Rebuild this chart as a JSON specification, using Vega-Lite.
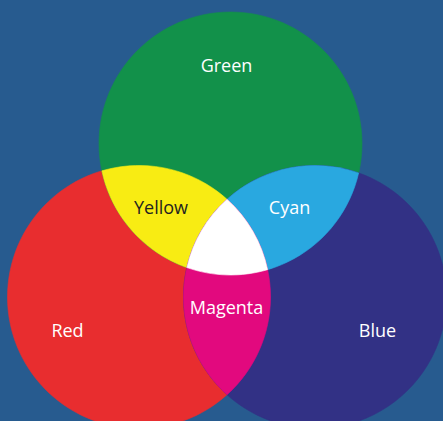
{
  "$schema": "https://vega.github.io/schema/vega-lite/v6.json",
  "width": 443,
  "height": 421,
  "padding": 0,
  "autosize": {"type": "none"},
  "background": "#275b8f",
  "config": {"view": {"stroke": null}},
  "datasets": {
    "regions": [
      {"region": "Red", "x": 139, "y": 297},
      {"region": "Green", "x": 230.5, "y": 143.5},
      {"region": "Blue", "x": 315, "y": 297},
      {"region": "Yellow", "x": 184.75, "y": 220.25},
      {"region": "Cyan", "x": 272.75, "y": 220.25},
      {"region": "Magenta", "x": 227, "y": 297},
      {"region": "White", "x": 227, "y": 245}
    ],
    "labels": [
      {"label": "Green", "x": 226.5, "y": 72},
      {"label": "Yellow", "x": 161, "y": 214},
      {"label": "Cyan", "x": 289.5, "y": 214},
      {"label": "Magenta", "x": 226.5, "y": 314},
      {"label": "Red", "x": 67.5, "y": 337},
      {"label": "Blue", "x": 377.5, "y": 337}
    ]
  },
  "layer": [
    {
      "data": {"name": "regions"},
      "mark": {"type": "point", "filled": true, "opacity": 1, "size": 69169, "strokeWidth": 0.6, "strokeOpacity": 1},
      "encoding": {
        "x": {"field": "x", "type": "quantitative", "scale": {"domain": [0, 443], "nice": false, "zero": false}, "axis": null},
        "y": {"field": "y", "type": "quantitative", "scale": {"domain": [0, 421], "nice": false, "zero": false, "reverse": true}, "axis": null},
        "color": {
          "field": "region", "type": "nominal", "legend": null,
          "scale": {
            "domain": ["Red", "Green", "Blue", "Yellow", "Cyan", "Magenta", "White"],
            "range": ["#e82d2f", "#12914a", "#323185", "#f8ec13", "#29a8e0", "#e2097e", "#ffffff"]
          }
        },
        "stroke": {
          "field": "region", "type": "nominal", "legend": null,
          "scale": {
            "domain": ["Red", "Green", "Blue", "Yellow", "Cyan", "Magenta", "White"],
            "range": ["#e82d2f", "#12914a", "#323185", "#f8ec13", "#29a8e0", "#e2097e", "#ffffff"]
          }
        },
        "shape": {
          "field": "region", "type": "nominal", "legend": null,
          "scale": {
            "domain": ["Red", "Green", "Blue", "Yellow", "Cyan", "Magenta", "White"],
            "range": [
              "M -1 0 A 1 1 0 1 0 1 0 A 1 1 0 1 0 -1 0 Z",
              "M -1 0 A 1 1 0 1 0 1 0 A 1 1 0 1 0 -1 0 Z",
              "M -1 0 A 1 1 0 1 0 1 0 A 1 1 0 1 0 -1 0 Z",
              "M -0.6303 -0.3757 A 1 1 0 0 0 0.6303 0.3757 A 1 1 0 0 0 -0.6303 -0.3757 Z",
              "M 0.6533 -0.3596 A 1 1 0 0 0 -0.6533 0.3596 A 1 1 0 0 0 0.6533 -0.3596 Z",
              "M 0 -0.7431 A 1 1 0 0 0 0 0.7431 A 1 1 0 0 0 0 -0.7431 Z",
              "M 0 -0.3477 A 1 1 0 0 0 -0.3054 0.1714 A 1 1 0 0 0 0.3090 0.1875 A 1 1 0 0 0 0 -0.3477 Z"
            ]
          }
        }
      }
    },
    {
      "data": {"name": "labels"},
      "mark": {"type": "text", "font": "Open Sans", "fontSize": 18, "baseline": "alphabetic", "align": "center"},
      "encoding": {
        "x": {"field": "x", "type": "quantitative", "scale": {"domain": [0, 443], "nice": false, "zero": false}, "axis": null},
        "y": {"field": "y", "type": "quantitative", "scale": {"domain": [0, 421], "nice": false, "zero": false, "reverse": true}, "axis": null},
        "text": {"field": "label", "type": "nominal"},
        "color": {"condition": {"test": "datum.label === 'Yellow'", "value": "#231f20"}, "value": "#ffffff"}
      }
    }
  ]
}
